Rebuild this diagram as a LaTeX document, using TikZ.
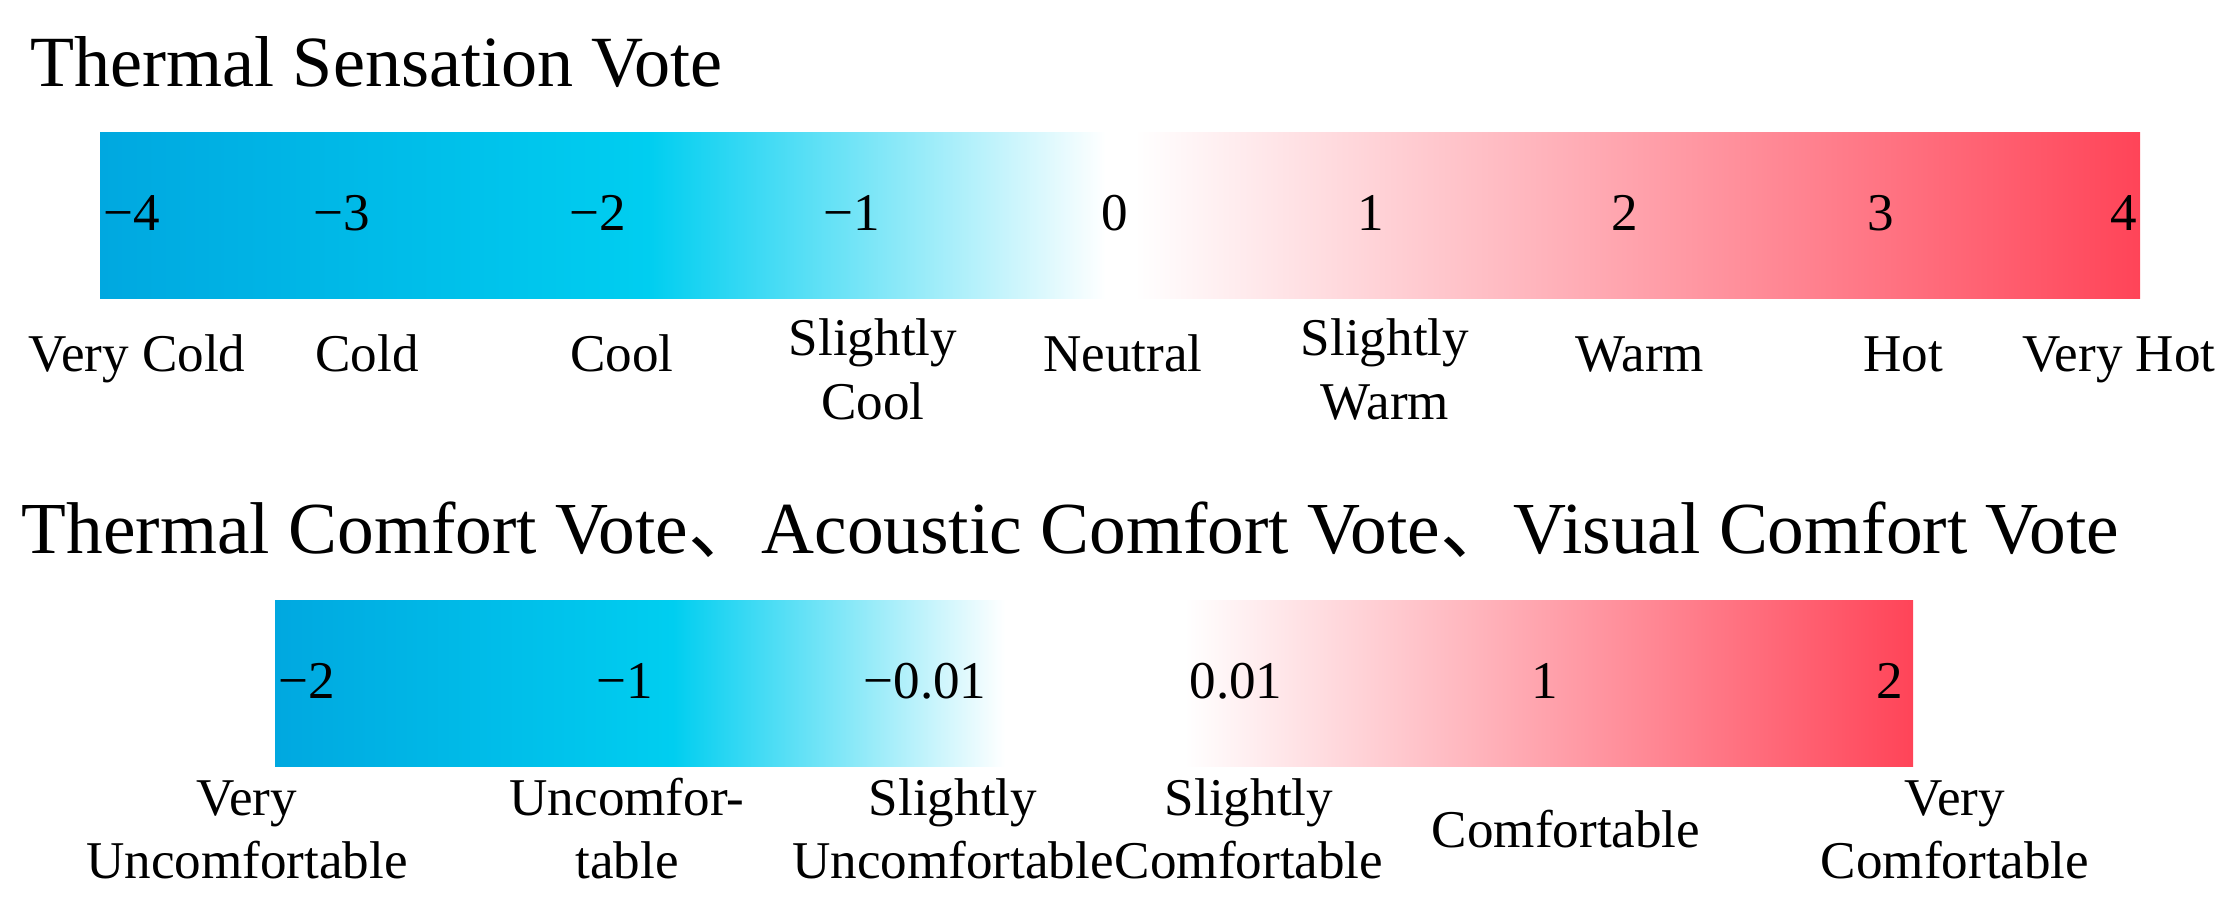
\documentclass[tikz,border=0pt]{standalone}
\usepackage{fontspec}
\setmainfont{Liberation Serif}
\newfontfamily\cjk{Noto Sans CJK SC}
\definecolor{blueA}{RGB}{0,168,224}
\definecolor{blueB}{RGB}{0,206,240}
\definecolor{redC}{RGB}{255,68,88}
\begin{document}
\begin{tikzpicture}[x=0.01cm,y=-0.01cm,
  ttl/.style={anchor=base west,inner sep=0pt,font=\fontsize{20.5}{24}\selectfont},
  num/.style={anchor=base,inner sep=0pt,font=\fontsize{15.1}{18}\selectfont},
  lbl/.style={anchor=base,inner sep=0pt,font=\fontsize{15.1}{18}\selectfont}]
\useasboundingbox (0,0) rectangle (2234,906);
% titles
\node[ttl] (t1) at (30,87) {Thermal Sensation Vote};
\node[ttl,font=\fontsize{20.85}{24}\selectfont] (t2) at (21,553) {Thermal Comfort Vote{\cjk 、}Acoustic Comfort Vote{\cjk 、}Visual Comfort Vote};
% top bar
\shade[left color=blueA,right color=blueB] (100,132) rectangle (650,298);
\shade[left color=blueB,right color=white] (649,132) rectangle (1106,298);
\fill[white] (1105,132) rectangle (1136,298);
\shade[left color=white,right color=redC] (1135,132) rectangle (2140,298);
% top numbers
\node[num] (n1) at (132,230) {−4};
\node[num] (n2) at (342,230) {−3};
\node[num] (n3) at (598,230) {−2};
\node[num] (n4) at (852,230) {−1};
\node[num] (n5) at (1115,230) {0};
\node[num] (n6) at (1371,230) {1};
\node[num] (n7) at (1625,230) {2};
\node[num] (n8) at (1881,230) {3};
\node[num] (n9) at (2124,230) {4};
% top labels
\node[lbl] (l1) at (137,371) {Very Cold};
\node[lbl] (l2) at (367,371) {Cold};
\node[lbl] (l3) at (622,371) {Cool};
\node[lbl] (l4a) at (873,355) {Slightly};
\node[lbl] (l4b) at (873,419) {Cool};
\node[lbl] (l5) at (1123,371) {Neutral};
\node[lbl] (l6a) at (1385,355) {Slightly};
\node[lbl] (l6b) at (1385,419) {Warm};
\node[lbl] (l7) at (1640,371) {Warm};
\node[lbl] (l8) at (1903,371) {Hot};
\node[lbl] (l9) at (2119,371) {Very Hot};
% bottom bars
\shade[left color=blueA,right color=blueB] (275,600) rectangle (674,766);
\shade[left color=blueB,right color=white] (673,600) rectangle (1005,766);
\shade[left color=white,right color=redC] (1185,600) rectangle (1913,766);
% bottom numbers
\node[num] (m1) at (307,698) {−2};
\node[num] (m2) at (625,698) {−1};
\node[num] (m3) at (925,698) {−0.01};
\node[num] (m4) at (1236,698) {0.01};
\node[num] (m5) at (1545,698) {1};
\node[num] (m6) at (1890,698) {2};
% bottom labels
\node[lbl] (k1a) at (247,815) {Very};
\node[lbl] (k1b) at (247,878) {Uncomfortable};
\node[lbl] (k2a) at (627,815) {Uncomfor-};
\node[lbl] (k2b) at (627,878) {table};
\node[lbl] (k3a) at (953,815) {Slightly};
\node[lbl] (k3b) at (953,878) {Uncomfortable};
\node[lbl] (k4a) at (1249,815) {Slightly};
\node[lbl] (k4b) at (1249,878) {Comfortable};
\node[lbl] (k5) at (1566,847) {Comfortable};
\node[lbl] (k6a) at (1955,815) {Very};
\node[lbl] (k6b) at (1955,878) {Comfortable};
\end{tikzpicture}
\end{document}
